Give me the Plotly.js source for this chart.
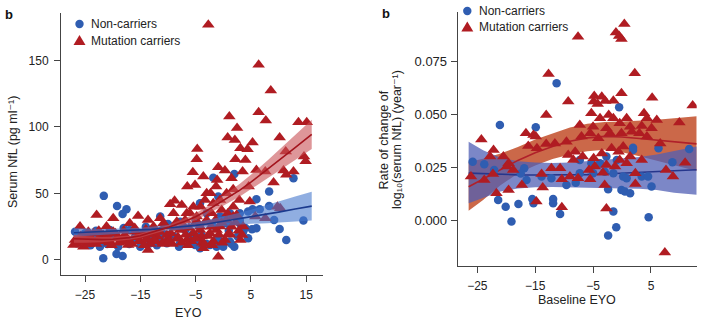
<!DOCTYPE html>
<html><head><meta charset="utf-8">
<script src="https://cdn.plot.ly/plotly-3.0.1.min.js"></script>
<style>html,body{margin:0;padding:0;background:#fff}#chart{width:709px;height:326px}</style>
</head><body><div id="chart"></div>
<script>
// ---------- Panel 1: Serum NfL vs EYO ----------
const carrierEYO = [
 -2.7, 6.4, 8.6, 6.4, 7.7, 1.1, 2.5, 13.6, 15.1, 10.2,
 0.8, 2.1, 3.1, 4.4, 5.3, -4.7, -4.8, 4.0, 2.2, 11.3,
 14.6, 14.9, -5.5, -3.6, -0.9, 0.3, -1.1, 6.0, 7.6, 10.9,
 12.7, 11.4, 1.5, 3.5, -6.5, -5.1, -2.3, 4.6, 1.8, 9.1,
 -8.8, -9.6, -7.5, -5.4, -4.1, 2.9, 4.8, 9.8, 10.3, 7.6,
 5.8, 2.4, -0.3, -2.1, -22.9, -19.9, -15.4, -13.6, -11.4, -16.9,
 -21.1, -25.9, -24.4, -26.8, -27.1, -25.3, -21.7, -19.3, -17.8, -17.2,
 -13.6, -13.9, -12.0, -10.2, -7.8, -6.6, -3.6, -0.9, 3.1, 3.4,
 1.0, -1.2, -4.2, -5.4, -9.0, -12.6, -15.9, -19.9, -22.3, -24.7,
 -23.5, -10.8, -6.9, -4.5, -3.0, 0.6, 3.6, 1.8, -0.6, 0.6,
 -1.8, -3.3, -6.6, -9.0, -12.6, -14.5, -18.4, -20.5, -24.1, -3.9,
 -2.4, -0.6, 1.8, -4.8, -8.4, -6.0, -3.0, -1.3, -26.5, -25.8,
 -24.8, -23.8, -23.0, -22.5, -21.8, -21.0, -20.2, -19.5, -18.8, -18.0,
 -17.5, -16.5, -16.0, -15.2, -14.8, -14.0, -13.2, -12.8, -12.2, -11.5,
 -11.0, -10.5, -10.0, -9.5, -9.2, -8.7, -8.2, -7.5, -7.2, -6.8,
 -6.2, -5.8, -5.2, -4.8, -4.2, -3.8, -3.2, -2.8, -2.2, -1.8,
 -1.4, -0.8, -0.3, 0.3, 0.8, 1.5, 2.2, 2.8, -26.0, -24.3,
 -22.0, -20.6, -19.0, -17.2, -15.6, -14.3, -12.5, -10.9, -9.8, -8.0,
 -6.4, -5.0, -3.4, -2.0, -0.2, 1.2, -25.2, -21.4, -17.8, -13.8
];
const carrierNfL = [
 176.8, 146.7, 127.4, 111, 104.8, 107.9, 99.3, 103.6, 103.6, 92,
 92, 90.3, 84, 83.3, 88.3, 83.5, 75.7, 75.2, 75.7, 81.5,
 77.8, 74.2, 66, 62.7, 69.7, 67.2, 60.2, 67.7, 66.5, 67.2,
 66.5, 64, 61.4, 66.5, 55.2, 56.4, 50.2, 55.2, 53.2, 58.2,
 44.6, 41.9, 41.4, 40.1, 40.1, 45.1, 43.9, 40.1, 38.9, 31.4,
 32.6, 33.9, 37.6, 35.1, 33.9, 31.4, 33.1, 30.1, 31.4, 27.6,
 25.1, 25.1, 21.3, 15, 11.3, 10, 18.8, 16.3, 18.8, 11.3,
 7.5, 15, 17.6, 18.8, 22.6, 15, 8.8, 2.5, 15, 18.8,
 20.1, 22.6, 22.6, 20.1, 25.1, 22.6, 21.3, 21.3, 17.6, 17.6,
 20.1, 27.6, 30.1, 27.6, 30.1, 30.1, 25.1, 40.1, 45.1, 50.2,
 42.6, 45.1, 35.1, 35.1, 25.1, 20.1, 15, 13.8, 13.8, 17.6,
 20.1, 25.1, 32.6, 32.6, 28.8, 35.1, 50.2, 55.2, 12, 18,
 12, 16, 12, 22, 14, 19, 11, 20, 13, 22,
 16, 12, 24, 14, 18, 23, 12, 19, 14, 21,
 13, 26, 16, 20, 12, 24, 17, 13, 26, 19,
 24, 14, 27, 17, 25, 13, 28, 18, 25, 14,
 30, 19, 28, 15, 35, 25, 28, 22, 14, 12,
 15, 13, 16, 14, 17, 11, 15, 12, 14, 16,
 11, 16, 12, 11, 13, 19, 16, 16, 14, 16
];
const nonCarrierEYO = [
 -21.6, -19.2, -17.5, -18.2, -26.8, -26.5, -21.7, -19.3, -18.2, -22.3,
 -24.7, -23.5, -20.5, -16.3, -15.1, -13.2, -11.4, -9.6, -7.8, -5.7,
 -5.1, -4.2, -2.4, -1.2, 0, 1.2, 2.6, 4.5, 5.2, 6.0,
 5.3, 8.3, 8.3, 9.2, 10.2, 11.4, 12.7, 14.5, 2.0, -1.8,
 -4.2, -0.9, -3.0, 1.2, 3.0, 4.5, 6.6, 6.0, 3.6, -11.4,
 -7.8, -6.9, -13.2, -16.9, -20.5, -25.9, -13.9, -10.2, -4.2, 0.6,
 3.0, -0.6, -26, -25, -24, -23, -22, -21, -20, -19,
 -18, -17, -16, -15, -14, -13, -12, -11, -10, -9,
 -8, -7, -6, -5, -4, -3, -2, -1, 0, 1,
 2, 3, 4, -0.5, 1.5
];
const nonCarrierNfL = [
 48.2, 40.6, 38.1, 34.6, 21.3, 12.5, 1.3, 4.5, 3, 10,
 13.8, 18.8, 17.6, 15, 20.1, 12.5, 16.3, 15, 12.5, 18.8,
 11.3, 15, 11.3, 10, 10, 13.8, 17.6, 16.3, 23.1, 45.6,
 38.1, 51.4, 40.6, 30.1, 23.3, 15, 61.4, 29.6, 64.7, 61.9,
 42.6, 47.7, 35.1, 35.1, 35.1, 36.4, 38.1, 23.8, 21.3, 32.6,
 28.8, 22.6, 22.6, 22.6, 22.6, 17.6, 17.6, 12.5, 8.8, 27.6,
 27.6, 32.6, 16, 20, 11, 22, 14, 12, 19, 10,
 24, 12, 17, 10, 25, 16, 11, 20, 27, 18,
 10, 24, 14, 30, 19, 12, 26, 16, 32, 22,
 10, 30, 24, 14, 12
];
// fitted curves with confidence bands (panel 1)
const fitEYO      = [-27, -25, -22, -20, -17, -15, -13, -10, -7, -5, -3, 0, 3, 5, 8, 10, 13, 16];
const carrierFit  = [16, 15.5, 15.3, 15.6, 16.8, 18.2, 20.8, 24.5, 29, 32.5, 37, 44.5, 52.5, 58.5, 68, 74.5, 84.5, 94.5];
const carrierHi   = [19, 18, 17.3, 17.4, 18.4, 19.7, 22.4, 26.3, 31.2, 35.1, 40, 48.3, 57.3, 64, 74.8, 82.3, 93.8, 105.5];
const carrierLo   = [13, 13, 13.3, 13.8, 15.2, 16.7, 19.2, 22.7, 26.8, 29.9, 34, 40.7, 47.7, 53, 61.2, 66.7, 75.2, 83.5];
const nonFit      = [20.5, 20.8, 21.2, 21.5, 22, 22.5, 23, 24, 25, 26, 27, 29, 31, 32.5, 34.5, 36, 38.3, 40.5];
const nonHi       = [24, 23.6, 23.3, 23.4, 23.8, 24.3, 24.9, 26, 27.2, 28.4, 29.8, 32.5, 35.5, 37.8, 41.3, 44, 47.8, 51.3];
const nonLo       = [17, 18, 19.1, 19.6, 20.2, 20.7, 21.1, 22, 22.8, 23.6, 24.2, 25.5, 26.5, 27.2, 27.7, 28, 28.8, 29.7];

// ---------- Panel 2: rate of change vs baseline EYO ----------
const carrierBaseEYO = [
 0.4, -7.6, -1.05, -0.5, -0.1, -12.7, 2.2, -9.3, -0.1, 5.2,
 12.2, -13.1, -4.8, -3.5, -4.9, -2.9, -4.2, -1.5, -5.3, -3.8,
 -2.3, -1.5, 0.8, 3.8, 4.3, 6.0, 9.9, -24.3, -22.2, -16.6,
 -15.3, -14.9, -16.2, -14.7, -13.1, -11.6, -9.6, -7.3, -5.0, -2.7,
 -0.4, 1.4, 3.4, 5.1, -7.0, -5.5, -4.1, -2.1, -0.1, 1.7,
 3.0, 4.3, 6.6, -9.3, -8.1, -6.8, -8.4, -4.9, -3.5, -1.8,
 -0.6, 0.2, -0.4, 1.4, 3.4, -4.7, -2.7, -1.2, 0.8, -3.3,
 -5.5, -3.0, 2.3, 2.3, 7.6, 8.8, 10.9, -2.7, 7.4, -26.1,
 -23.8, -22.3, -22.8, -20.5, -19.6, -21.7, -19.6, -17.3, -14.8, -13.7,
 -13.9, -12.2, -10.4, -10.4, -10.7, -5.7, -7.6, -9.0, -19.9, -18.8
];
const carrierRate = [
 0.0924, 0.0865, 0.0885, 0.0868, 0.0854, 0.0689, 0.0692, 0.0559, 0.0598, 0.0577,
 0.0541, 0.0496, 0.0585, 0.0582, 0.0559, 0.0562, 0.0548, 0.0563, 0.0504, 0.048,
 0.0496, 0.048, 0.048, 0.0504, 0.048, 0.0472, 0.046, 0.0381, 0.0331, 0.041,
 0.0402, 0.0394, 0.035, 0.0339, 0.0359, 0.0362, 0.037, 0.0449, 0.0441, 0.0433,
 0.0457, 0.0441, 0.0444, 0.0433, 0.0394, 0.041, 0.0386, 0.041, 0.041, 0.0417,
 0.041, 0.0394, 0.0362, 0.0308, 0.0323, 0.03, 0.0284, 0.0292, 0.0315, 0.0339,
 0.0323, 0.0347, 0.0284, 0.03, 0.0284, 0.0253, 0.026, 0.0253, 0.0268, 0.0224,
 0.0193, 0.0166, 0.0221, 0.0171, 0.0237, 0.0206, 0.0271, 0.0056, -0.0152, 0.0206,
 0.019, 0.0218, 0.03, 0.03, 0.0268, 0.0127, 0.0143, 0.0166, 0.0088, 0.0154,
 0.0218, 0.0245, 0.0193, 0.0061, 0.0245, 0.0237, 0.0198, 0.0206, 0.0253, 0.0237
];
const nonCarrierBaseEYO = [
 -11.3, -21.1, -14.9, -0.5, -25.8, -23.8, -22.1, -21.4, -20.1, -19.1,
 -17.9, -15.5, -15.3, -11.9, -11.9, -10.7, -16.9, -16.5, -13.9, -12.2,
 -9.6, -8.0, -7.3, -5.3, -5.0, -3.0, -1.5, 0.2, 0.8, 3.4,
 4.5, 5.1, 1.9, 1.9, 6.3, 8.7, 11.6, -2.4, -0.1, 0.5,
 1.4, -1.5, -2.4, -1.0, 4.6, -3.8, -2.7, -0.9, -7.3, -17.5
];
const nonCarrierRate = [
 0.0645, 0.0449, 0.0438, 0.0532, 0.0276, 0.0264, 0.0237, 0.0096, 0.0064, -0.0006,
 0.0077, 0.01, 0.008, 0.01, 0.008, 0.003, 0.0245, 0.019, 0.0206, 0.0198,
 0.0166, 0.0177, 0.0221, 0.0268, 0.0221, 0.0229, 0.0221, 0.0206, 0.0198, 0.0206,
 0.0206, 0.0159, 0.0342, 0.0331, 0.0339, 0.0273, 0.0336, 0.0146, 0.0143, 0.0135,
 0.0127, 0.0041, -0.0072, -0.0033, 0.0014, 0.0268, 0.03, 0.0284, 0.0284, 0.022
];
const fitBaseEYO   = [-26.5, -24, -21, -18, -15, -12, -9, -6, -3, 0, 3, 6, 9, 12.9];
const carrierRFit  = [0.0158, 0.0195, 0.024, 0.0282, 0.0318, 0.0348, 0.0372, 0.0388, 0.0395, 0.0392, 0.0385, 0.0377, 0.037, 0.036];
const carrierRHi   = [0.0275, 0.029, 0.0315, 0.0345, 0.038, 0.041, 0.0437, 0.0455, 0.0463, 0.0465, 0.0468, 0.0474, 0.048, 0.049];
const carrierRLo   = [0.0045, 0.0095, 0.0165, 0.022, 0.0258, 0.0288, 0.031, 0.0325, 0.0332, 0.032, 0.0302, 0.028, 0.026, 0.0232];
const nonRFit      = [0.0222, 0.0219, 0.0216, 0.0214, 0.0213, 0.0213, 0.0214, 0.0215, 0.0218, 0.0221, 0.0225, 0.0229, 0.0233, 0.0238];
const nonRHi       = [0.037, 0.033, 0.0295, 0.0278, 0.0272, 0.027, 0.0272, 0.0278, 0.0285, 0.029, 0.0298, 0.031, 0.0325, 0.0348];
const nonRLo       = [0.008, 0.0105, 0.0135, 0.015, 0.0155, 0.0157, 0.0157, 0.0155, 0.0152, 0.015, 0.0148, 0.0142, 0.013, 0.012];

const legendLabels = ['Non-carriers', 'Mutation carriers'];
const panelLabel = 'b';

// ---------- drawing ----------
const W = 709, H = 326;
const PX = v => v / W, PY = v => 1 - v / H;
const BLUE = '#2f5db1', RED = '#b01c22';
const FONT = 'Liberation Sans, Arial, Helvetica, DejaVu Sans, sans-serif';

function band(xs, lo, hi, xa, ya, color) {
  return {x: xs.concat(xs.slice().reverse()), y: hi.concat(lo.slice().reverse()),
    xaxis: xa, yaxis: ya, type: 'scatter', mode: 'lines', fill: 'toself',
    fillcolor: color, line: {width: 0}, hoverinfo: 'skip', showlegend: false};
}
function line(xs, ys, xa, ya, color) {
  return {x: xs, y: ys, xaxis: xa, yaxis: ya, type: 'scatter', mode: 'lines',
    line: {color: color, width: 1.6}, hoverinfo: 'skip', showlegend: false};
}
function pts(xs, ys, xa, ya, color, sym, size) {
  return {x: xs, y: ys, xaxis: xa, yaxis: ya, type: 'scatter', mode: 'markers',
    marker: {color: color, symbol: sym, size: size, line: {width: 0}}, hoverinfo: 'skip', showlegend: false};
}

const traces = [
  pts(nonCarrierEYO, nonCarrierNfL, 'x', 'y', BLUE, 'circle', 8.5),
  pts(carrierEYO, carrierNfL, 'x', 'y', RED, 'triangle-up', 11),
  band(fitEYO, nonLo, nonHi, 'x', 'y', 'rgba(70,120,205,0.6)'),
  band(fitEYO, carrierLo, carrierHi, 'x', 'y', 'rgba(200,80,85,0.6)'),
  line(fitEYO, nonFit, 'x', 'y', '#1b3a8e'),
  line(fitEYO, carrierFit, 'x', 'y', '#a3141d'),

  band(fitBaseEYO, carrierRLo, carrierRHi, 'x2', 'y2', 'rgba(190,66,28,0.8)'),
  band(fitBaseEYO, nonRLo, nonRHi, 'x2', 'y2', 'rgba(80,95,180,0.75)'),
  line(fitBaseEYO, carrierRFit, 'x2', 'y2', '#b0202a'),
  line(fitBaseEYO, nonRFit, 'x2', 'y2', '#26368c'),
  pts(nonCarrierBaseEYO, nonCarrierRate, 'x2', 'y2', BLUE, 'circle', 8.5),
  pts(carrierBaseEYO, carrierRate, 'x2', 'y2', RED, 'triangle-up', 11)
];

const axisCommon = {showline: true, linecolor: '#444', linewidth: 1, ticks: 'outside', ticklen: 6,
  tickwidth: 1, tickcolor: '#444', showgrid: false, zeroline: false,
  tickfont: {family: FONT, size: 12, color: '#222'}, ticklabelstandoff: 3, fixedrange: true};

const layout = {
  width: W, height: H, margin: {l: 0, r: 0, t: 0, b: 0},
  paper_bgcolor: '#fff', plot_bgcolor: 'rgba(0,0,0,0)', showlegend: false,
  font: {family: FONT, color: '#222', size: 12},
  xaxis: Object.assign({}, axisCommon, {domain: [PX(61), PX(323)], range: [-29.34, 18.04], tick0: -25, dtick: 10, anchor: 'y'}),
  yaxis: Object.assign({}, axisCommon, {domain: [PY(275), PY(13)], range: [-11.3, 185.7], tick0: 0, dtick: 50, anchor: 'x'}),
  xaxis2: Object.assign({}, axisCommon, {domain: [PX(457.7), PX(696.7)], range: [-28.39, 12.9], tick0: -25, dtick: 10, anchor: 'y2'}),
  yaxis2: Object.assign({}, axisCommon, {domain: [PY(265.7), PY(12)], range: [-0.0214, 0.0981], tickvals: [0, 0.025, 0.05, 0.075], tickformat: '.3f', anchor: 'x2',
    tickfont: {family: FONT, size: 13, color: '#222'}, ticklabelstandoff: 1}),
  shapes: [
    {type: 'circle', xref: 'paper', yref: 'paper', xsizemode: 'pixel', ysizemode: 'pixel', xanchor: PX(79.5), yanchor: PY(24), x0: -4.2, x1: 4.2, y0: -4.2, y1: 4.2, fillcolor: BLUE, line: {width: 0}},
    {type: 'path', xref: 'paper', yref: 'paper', xsizemode: 'pixel', ysizemode: 'pixel', xanchor: PX(79.5), yanchor: PY(40.5), path: 'M-6,-4.5 L6,-4.5 L0,5.5 Z', fillcolor: RED, line: {width: 0}},
    {type: 'circle', xref: 'paper', yref: 'paper', xsizemode: 'pixel', ysizemode: 'pixel', xanchor: PX(467.3), yanchor: PY(11), x0: -4.2, x1: 4.2, y0: -4.2, y1: 4.2, fillcolor: BLUE, line: {width: 0}},
    {type: 'path', xref: 'paper', yref: 'paper', xsizemode: 'pixel', ysizemode: 'pixel', xanchor: PX(467.3), yanchor: PY(27), path: 'M-6,-4.5 L6,-4.5 L0,5.5 Z', fillcolor: RED, line: {width: 0}}
  ],
  annotations: [
    {text: legendLabels[0], x: PX(89), y: PY(24), xanchor: 'left', yanchor: 'middle'},
    {text: legendLabels[1], x: PX(89), y: PY(40.5), xanchor: 'left', yanchor: 'middle'},
    {text: legendLabels[0], x: PX(477), y: PY(11), xanchor: 'left', yanchor: 'middle'},
    {text: legendLabels[1], x: PX(477), y: PY(27), xanchor: 'left', yanchor: 'middle'},
    {text: panelLabel, x: PX(9), y: PY(15), xanchor: 'center', yanchor: 'middle', font: {size: 13, color: '#111', weight: 'bold'}},
    {text: panelLabel, x: PX(386), y: PY(14), xanchor: 'center', yanchor: 'middle', font: {size: 13, color: '#111', weight: 'bold'}},
    {text: 'Serum NfL (pg ml⁻¹)', x: PX(13), y: PY(152), textangle: -90, xanchor: 'center', yanchor: 'middle', font: {size: 12.5}},
    {text: 'EYO', x: PX(189), y: PY(313), xanchor: 'center', yanchor: 'middle', font: {size: 12.5}},
    {text: 'Baseline EYO', x: PX(577), y: PY(300), xanchor: 'center', yanchor: 'middle', font: {size: 12.5}},
    {text: 'Rate of change of', x: PX(383.5), y: PY(140), textangle: -90, xanchor: 'center', yanchor: 'middle', font: {size: 12.5}},
    {text: 'log₁₀(serum NfL) (year⁻¹)', x: PX(397), y: PY(140), textangle: -90, xanchor: 'center', yanchor: 'middle', font: {size: 12.5}}
  ].map(a => Object.assign({xref: 'paper', yref: 'paper', showarrow: false}, a,
      {font: Object.assign({family: FONT, color: '#222', size: 12}, a.font || {})}))
};

Plotly.newPlot('chart', traces, layout, {staticPlot: true, displayModeBar: false});
</script></body></html>
